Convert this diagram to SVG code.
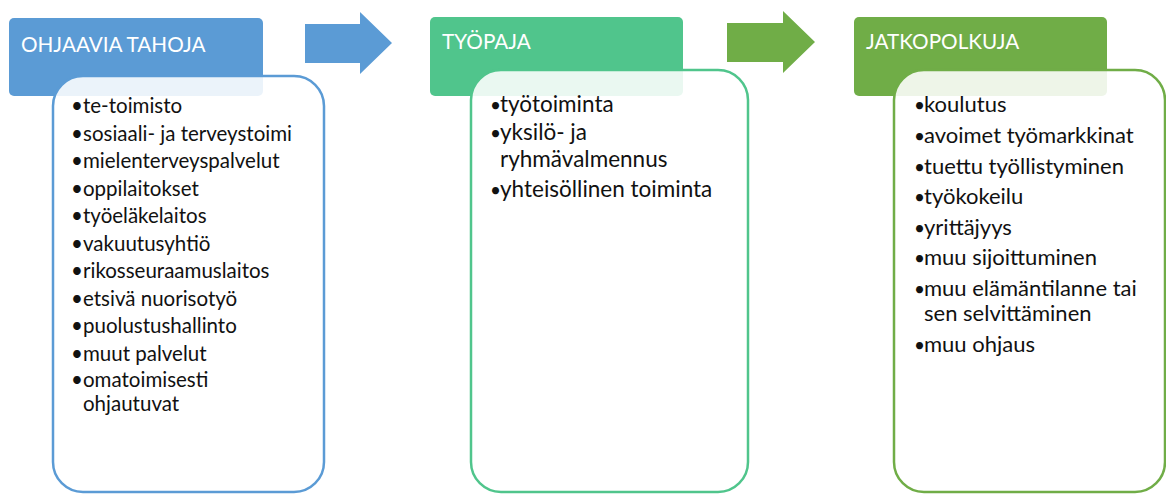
<svg xmlns="http://www.w3.org/2000/svg" width="1166" height="495" viewBox="0 0 1166 495">
  <style>
    .hdr-text { font-family: Lato, "Liberation Sans", sans-serif; font-size: 20.7px; fill: #ffffff; }
    .item { font-family: Lato, "Liberation Sans", sans-serif; font-size: 20.5px; fill: #111111; }
    .item2 { font-size: 22.5px; }
    .item3 { font-size: 22px; }
    .dot { font-size: 19px; }
    .card { fill: #ffffff; fill-opacity: 0.88; stroke-width: 2.5; }
  </style>
  <rect width="1166" height="495" fill="#ffffff"/>

  <!-- flow arrows between the stages -->
  <g id="connectors">
    <polygon points="305,24 360,24 360,12 392,43 360,74 360,63 305,63" fill="#5B9BD5"/>
    <polygon points="727,23 783,23 783,11 815,42 783,73 783,62 727,62" fill="#70AD47"/>
  </g>

  <!-- stage 1 -->
  <g id="ohjaavia-tahoja">
    <rect x="9" y="18" width="254" height="78" rx="5" fill="#5B9BD5"/>
    <text class="hdr-text" x="21" y="52">OHJAAVIA TAHOJA</text>
    <rect class="card" x="53" y="76" width="271" height="416" rx="30" stroke="#5B9BD5"/>
    <g class="item">
      <text x="71" y="113">•<tspan x="83">te-toimisto</tspan></text>
      <text x="71" y="140.5">•<tspan x="83">sosiaali- ja terveystoimi</tspan></text>
      <text x="71" y="168">•<tspan x="83">mielenterveyspalvelut</tspan></text>
      <text x="71" y="195.5">•<tspan x="83">oppilaitokset</tspan></text>
      <text x="71" y="223">•<tspan x="83">työeläkelaitos</tspan></text>
      <text x="71" y="250.5">•<tspan x="83">vakuutusyhtiö</tspan></text>
      <text x="71" y="278">•<tspan x="83">rikosseuraamuslaitos</tspan></text>
      <text x="71" y="305.5">•<tspan x="83">etsivä nuorisotyö</tspan></text>
      <text x="71" y="333">•<tspan x="83">puolustushallinto</tspan></text>
      <text x="71" y="360.5">•<tspan x="83">muut palvelut</tspan></text>
      <text x="71" y="387">•<tspan x="83">omatoimisesti</tspan><tspan x="83" y="411">ohjautuvat</tspan></text>
    </g>
  </g>

  <!-- stage 2 -->
  <g id="tyopaja">
    <rect x="430" y="17" width="253" height="79" rx="5" fill="#50C58C"/>
    <text class="hdr-text" x="442" y="49">TYÖPAJA</text>
    <rect class="card" x="471" y="70" width="277" height="422" rx="30" stroke="#50C58C"/>
    <g class="item item2">
      <text x="490" y="112"><tspan class="dot">•</tspan><tspan x="500">työtoiminta</tspan></text>
      <text x="490" y="140"><tspan class="dot">•</tspan><tspan x="500">yksilö- ja</tspan><tspan x="500" y="166.5">ryhmävalmennus</tspan></text>
      <text x="490" y="197"><tspan class="dot">•</tspan><tspan x="500">yhteisöllinen toiminta</tspan></text>
    </g>
  </g>

  <!-- stage 3 -->
  <g id="jatkopolkuja">
    <rect x="854" y="17" width="253" height="79" rx="5" fill="#70AD47"/>
    <text class="hdr-text" x="866" y="49">JATKOPOLKUJA</text>
    <rect class="card" x="894" y="70" width="271" height="422" rx="30" stroke="#70AD47"/>
    <g class="item item3">
      <text x="914" y="112"><tspan class="dot">•</tspan><tspan x="924">koulutus</tspan></text>
      <text x="914" y="143"><tspan class="dot">•</tspan><tspan x="924">avoimet työmarkkinat</tspan></text>
      <text x="914" y="173.5"><tspan class="dot">•</tspan><tspan x="924">tuettu työllistyminen</tspan></text>
      <text x="914" y="204"><tspan class="dot">•</tspan><tspan x="924">työkokeilu</tspan></text>
      <text x="914" y="234.5"><tspan class="dot">•</tspan><tspan x="924">yrittäjyys</tspan></text>
      <text x="914" y="265"><tspan class="dot">•</tspan><tspan x="924">muu sijoittuminen</tspan></text>
      <text x="914" y="295.5"><tspan class="dot">•</tspan><tspan x="924">muu elämäntilanne tai</tspan><tspan x="924" y="321">sen selvittäminen</tspan></text>
      <text x="914" y="352"><tspan class="dot">•</tspan><tspan x="924">muu ohjaus</tspan></text>
    </g>
  </g>
</svg>
